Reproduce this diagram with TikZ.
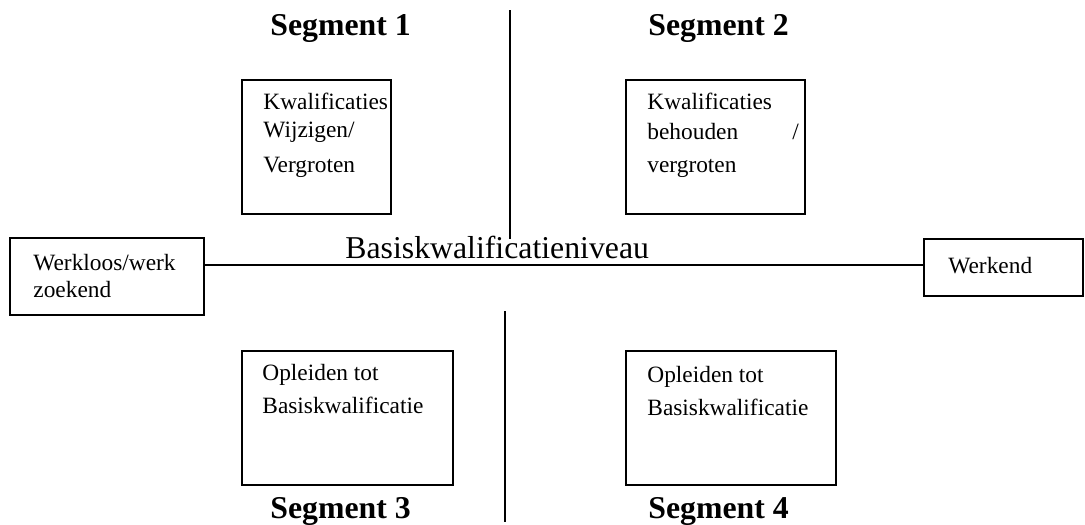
\documentclass[tikz,border=0pt]{standalone}
\usepackage{fontspec}
\setmainfont{Liberation Serif}
\begin{document}
\begin{tikzpicture}[x=0.4878pt,y=-0.4878pt,
  frame/.style={draw,line width=0.9pt,inner sep=0pt},
  rule/.style={line width=0.9pt},
  txt/.style={anchor=base west,inner sep=0pt,font=\fontsize{11.4}{14}\selectfont},
  seg/.style={anchor=base west,inner sep=0pt,font=\fontsize{15.5}{18}\selectfont\bfseries},
  big/.style={anchor=base west,inner sep=0pt,font=\fontsize{15.5}{18}\selectfont}]
\useasboundingbox (0,0) rectangle (1085,524);

% quadrant boxes
\node[frame,minimum width=149*0.4878pt,minimum height=134*0.4878pt] (b1) at (316.5,147) {};
\node[frame,minimum width=179*0.4878pt,minimum height=134*0.4878pt] (b2) at (715.5,147) {};
\node[frame,minimum width=211*0.4878pt,minimum height=134*0.4878pt] (b3) at (347.5,418) {};
\node[frame,minimum width=210*0.4878pt,minimum height=134*0.4878pt] (b4) at (731,418) {};
% side boxes
\node[frame,minimum width=194*0.4878pt,minimum height=77*0.4878pt] (wl) at (107,276.5) {};
\node[frame,minimum width=159*0.4878pt,minimum height=57*0.4878pt] (wk) at (1003.5,267.5) {};

% axes
\coordinate (top) at (510,10);
\coordinate (mid) at (510,239);
\coordinate (bot) at (505,311);
\coordinate (botend) at (505,522);
\coordinate (hl) at (0,265);
\draw[rule] (top) -- (mid);
\draw[rule] (bot) -- (botend);
\draw[rule] (wl.east |- hl) -- (wk.west |- hl);

% box texts
\node[txt] (t1a) at (263,109) {Kwalificaties};
\node[txt] (t1b) at (263,137) {Wijzigen/};
\node[txt] (t1c) at (263,172) {Vergroten};
\node[txt] (t2a) at (647,109) {Kwalificaties};
\node[txt] (t2b) at (647,139) {behouden};
\node[txt] (t2s) at (792,139) {/};
\node[txt] (t2c) at (647,172) {vergroten};
\node[txt] (t3a) at (262,380) {Opleiden tot};
\node[txt] (t3b) at (262,413) {Basiskwalificatie};
\node[txt] (t4a) at (647,382) {Opleiden tot};
\node[txt] (t4b) at (647,415) {Basiskwalificatie};
\node[txt] (wla) at (33,270) {Werkloos/werk};
\node[txt] (wlb) at (33,297) {zoekend};
\node[txt] (wka) at (948,273) {Werkend};
\node[big] (lvl) at (345,258) {Basiskwalificatieniveau};

% segment titles
\node[seg] (s1) at (270,35) {Segment 1};
\node[seg] (s2) at (648,35) {Segment 2};
\node[seg] (s3) at (270,518) {Segment 3};
\node[seg] (s4) at (648,518) {Segment 4};
\end{tikzpicture}
\end{document}
